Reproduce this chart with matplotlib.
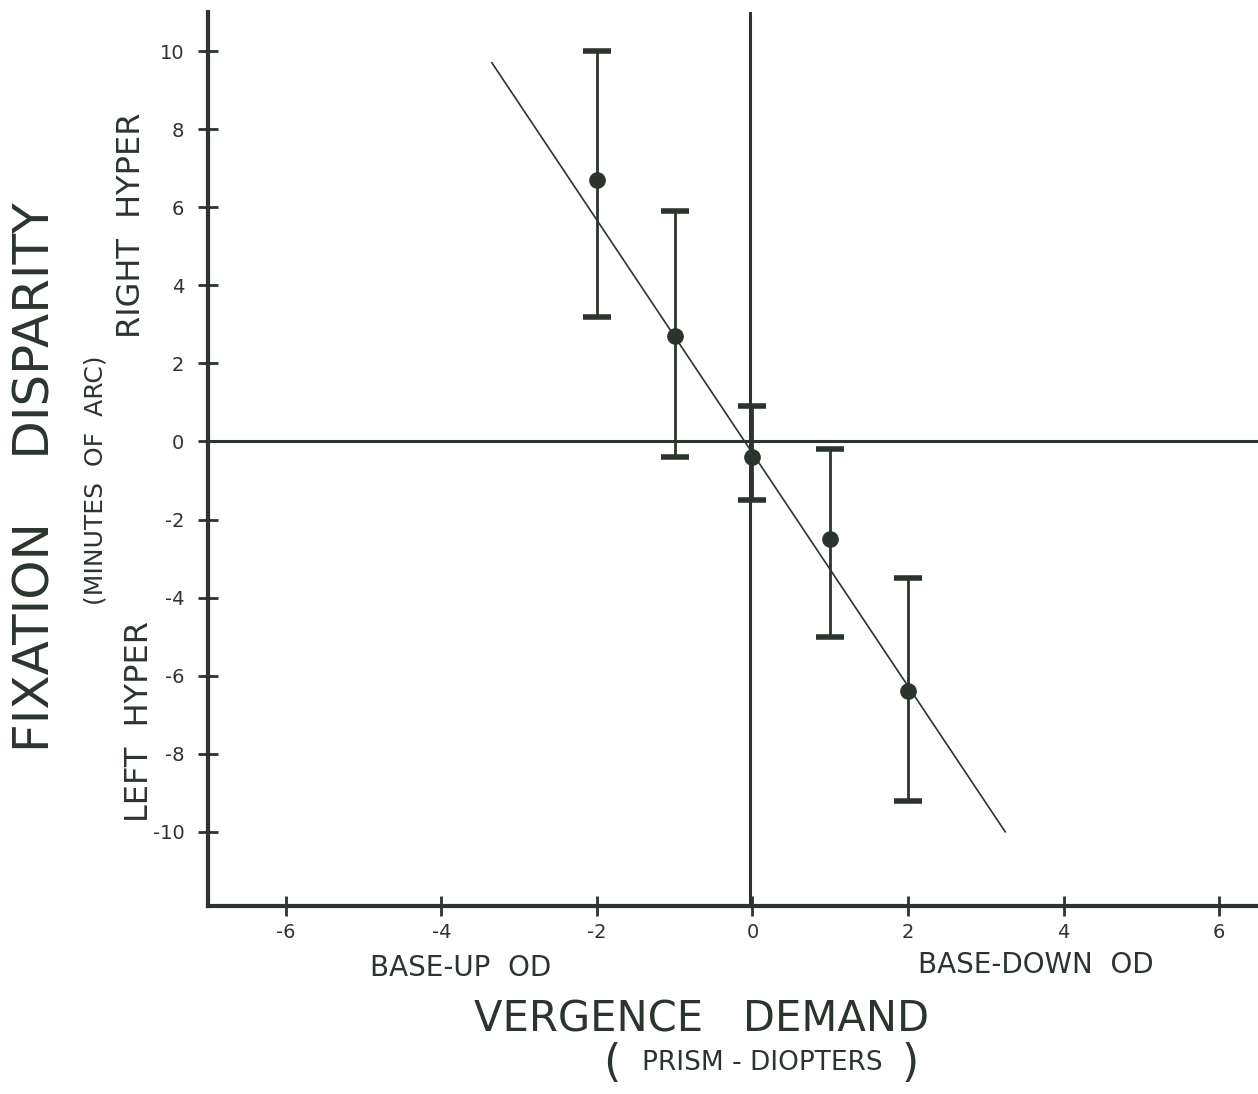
import matplotlib.pyplot as plt

# vergence demand (prism diopters) and mean fixation disparity (min of arc)
demand = [-2, -1, 0, 1, 2]
disparity = [6.7, 2.7, -0.4, -2.5, -6.4]
err_upper = [10.0, 5.9, 0.9, -0.2, -3.5]
err_lower = [3.2, -0.4, -1.5, -5.0, -9.2]

# hand-fitted regression line end points
fit_x = [-3.35, 3.25]
fit_y = [9.7, -10.0]

x_ticks = [-6, -4, -2, 0, 2, 4, 6]
y_ticks = [10, 8, 6, 4, 2, 0, -2, -4, -6, -8, -10]

ink = '#2b342d'
W, H = 1258, 1094

fig = plt.figure(figsize=(W / 100, H / 100), dpi=100)
ax = fig.add_axes([208 / W, 1 - 906 / H, 1 - 208 / W, (906 - 12) / H])

yerr = [[d - lo for d, lo in zip(disparity, err_lower)],
        [hi - d for d, hi in zip(disparity, err_upper)]]
ax.errorbar(demand, disparity, yerr=yerr, fmt='o', color=ink, ms=11,
            elinewidth=2, capsize=10, capthick=4, zorder=3)
ax.plot(fit_x, fit_y, color=ink, lw=1.2, zorder=2)

ax.axvline(-0.03, color=ink, lw=2.2, zorder=1)
ax.axhline(0, color=ink, lw=2.2, zorder=1)

ax.set_xlim(-7, 6.5)
ax.set_ylim(-11.9, 11)
ax.set_xticks(x_ticks)
ax.set_xticklabels([str(t) for t in x_ticks])
ax.set_yticks(y_ticks)
ax.set_yticklabels([str(t) for t in y_ticks])
ax.tick_params(direction='inout', length=14, width=2, colors=ink,
               labelsize=14)
ax.tick_params(axis='x', pad=5)
ax.tick_params(axis='y', pad=10)

for s in ['top', 'right']:
    ax.spines[s].set_visible(False)
for s in ['left', 'bottom']:
    ax.spines[s].set_linewidth(3)
    ax.spines[s].set_color(ink)

def px(x, y):
    return x / W, 1 - y / H

def label(x, y, s, size, rot=0):
    fig.text(*px(x, y), s, rotation=rot, fontsize=size, color=ink,
             ha='center', va='center')

label(36, 477, 'FIXATION    DISPARITY', 36, 90)
label(96, 480, '(MINUTES  OF  ARC)', 18, 90)
label(131, 225, 'RIGHT  HYPER', 23, 90)
label(139, 722, 'LEFT  HYPER', 23, 90)

label(461, 968, 'BASE-UP  OD', 20)
label(1036, 965, 'BASE-DOWN  OD', 20)
label(702, 1020, 'VERGENCE   DEMAND', 30)
label(762, 1063, 'PRISM - DIOPTERS', 19)
label(612, 1063, '(', 32)
label(910, 1063, ')', 32)

fig.savefig('out.png', dpi=100, facecolor='white')
